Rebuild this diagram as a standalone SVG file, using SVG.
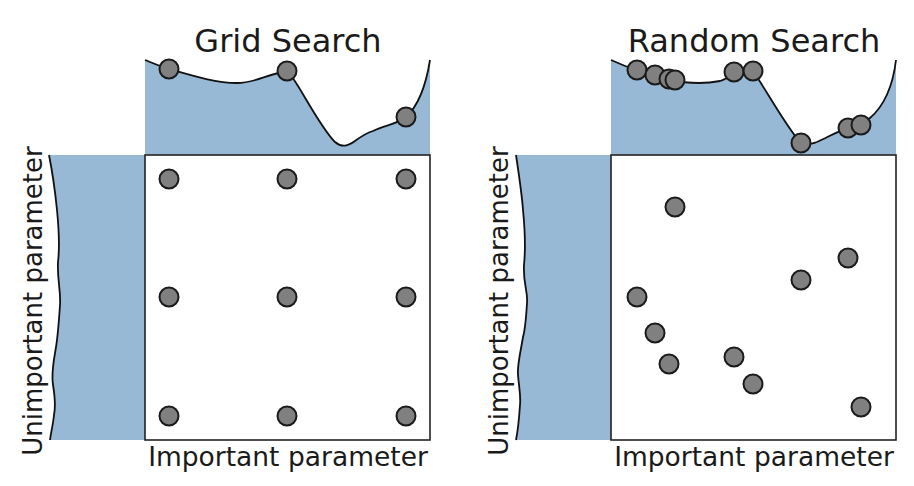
<svg xmlns="http://www.w3.org/2000/svg" width="914" height="486" viewBox="0 0 914 486">
<style>
.band{fill:#98b9d6;stroke:none}
.curve{fill:none;stroke:#111;stroke-width:1.8}
.box{fill:#fff;stroke:#222;stroke-width:1.6}
.pt{fill:#808080;stroke:#1a1a1a;stroke-width:2}
.t{font-family:"DejaVu Sans",sans-serif;fill:#1a1a1a}
.title{font-size:32px;text-anchor:middle}
.ax{font-size:26.5px;text-anchor:middle}
.axl{font-size:26px;text-anchor:middle}
</style>
<rect width="914" height="486" fill="#fff"/>
<g id="grid-panel">
  <path class="band" d="M145,60 C155,64 162,67 169,69 C190,75 215,83 237,83 C255,83 265,75 287,71 C295,76 318,125 335,142 C342,148 348,146 355,141 C362,136 366,133 373,131 C385,125 398,124 406,117 C418,106 426,85 430,60 L430,155 L145,155 Z"/>
  <path class="curve" d="M145,60 C155,64 162,67 169,69 C190,75 215,83 237,83 C255,83 265,75 287,71 C295,76 318,125 335,142 C342,148 348,146 355,141 C362,136 366,133 373,131 C385,125 398,124 406,117 C418,106 426,85 430,60"/>
  <path class="band" d="M49,155 C52,170 55,190 57,210 C59,230 60,245 58,262 C57,280 61,290 60,305 C59,320 58,335 56,347 C54,360 51,372 53,385 C55,397 56,405 54,415 C53,425 51,432 50,440 L145,440 L145,155 Z"/>
  <path class="curve" d="M49,155 C52,170 55,190 57,210 C59,230 60,245 58,262 C57,280 61,290 60,305 C59,320 58,335 56,347 C54,360 51,372 53,385 C55,397 56,405 54,415 C53,425 51,432 50,440"/>
  <rect class="box" x="145" y="155" width="285" height="285"/>
  <circle class="pt" cx="169" cy="69" r="9.5"/>
  <circle class="pt" cx="287" cy="71" r="9.5"/>
  <circle class="pt" cx="406" cy="117" r="9.5"/>
  <circle class="pt" cx="169" cy="179" r="9.5"/>
  <circle class="pt" cx="287" cy="179" r="9.5"/>
  <circle class="pt" cx="406" cy="179" r="9.5"/>
  <circle class="pt" cx="169" cy="297" r="9.5"/>
  <circle class="pt" cx="287" cy="297" r="9.5"/>
  <circle class="pt" cx="406" cy="297" r="9.5"/>
  <circle class="pt" cx="169" cy="416" r="9.5"/>
  <circle class="pt" cx="287" cy="416" r="9.5"/>
  <circle class="pt" cx="406" cy="416" r="9.5"/>
  <text class="t title" x="288" y="52">Grid Search</text>
  <text class="t ax" x="288" y="466">Important parameter</text>
  <text class="t axl" transform="translate(42,301) rotate(-90)">Unimportant parameter</text>
</g>
<g id="random-panel">
  <path class="band" d="M611,60 C620,64 630,68 638,71 C648,75 660,78 669,80 C685,83 705,84 720,81 C728,79 732,73 735,72 C742,70 750,70 753,71 C765,88 785,125 800,142 C805,146 810,144 817,142 C830,136 840,130 849,128 C858,126 865,122 870,118 C885,105 893,85 896,60 L896,155 L611,155 Z"/>
  <path class="curve" d="M611,60 C620,64 630,68 638,71 C648,75 660,78 669,80 C685,83 705,84 720,81 C728,79 732,73 735,72 C742,70 750,70 753,71 C765,88 785,125 800,142 C805,146 810,144 817,142 C830,136 840,130 849,128 C858,126 865,122 870,118 C885,105 893,85 896,60"/>
  <path class="band" d="M516,155 C519,175 522,195 523,210 C525,230 526,245 524,265 C523,285 528,290 527,303 C526,320 525,330 523,337 C521,350 517,365 518,375 C519,388 521,395 520,405 C519,420 518,430 516,440 L611,440 L611,155 Z"/>
  <path class="curve" d="M516,155 C519,175 522,195 523,210 C525,230 526,245 524,265 C523,285 528,290 527,303 C526,320 525,330 523,337 C521,350 517,365 518,375 C519,388 521,395 520,405 C519,420 518,430 516,440"/>
  <rect class="box" x="611" y="155" width="285" height="285"/>
  <circle class="pt" cx="637" cy="70" r="9.5"/>
  <circle class="pt" cx="655" cy="75" r="9.5"/>
  <circle class="pt" cx="669" cy="79" r="9.5"/>
  <circle class="pt" cx="675" cy="80" r="9.5"/>
  <circle class="pt" cx="734" cy="72" r="9.5"/>
  <circle class="pt" cx="753" cy="71" r="9.5"/>
  <circle class="pt" cx="801" cy="143" r="9.5"/>
  <circle class="pt" cx="848" cy="128" r="9.5"/>
  <circle class="pt" cx="861" cy="125" r="9.5"/>
  <circle class="pt" cx="675" cy="207" r="9.5"/>
  <circle class="pt" cx="637" cy="297" r="9.5"/>
  <circle class="pt" cx="655" cy="333" r="9.5"/>
  <circle class="pt" cx="669" cy="364" r="9.5"/>
  <circle class="pt" cx="734" cy="357" r="9.5"/>
  <circle class="pt" cx="753" cy="384" r="9.5"/>
  <circle class="pt" cx="801" cy="280" r="9.5"/>
  <circle class="pt" cx="848" cy="258" r="9.5"/>
  <circle class="pt" cx="861" cy="407" r="9.5"/>
  <text class="t title" x="754" y="52">Random Search</text>
  <text class="t ax" x="754" y="466">Important parameter</text>
  <text class="t axl" transform="translate(508,301) rotate(-90)">Unimportant parameter</text>
</g>
<g id="connectors"></g>
</svg>
